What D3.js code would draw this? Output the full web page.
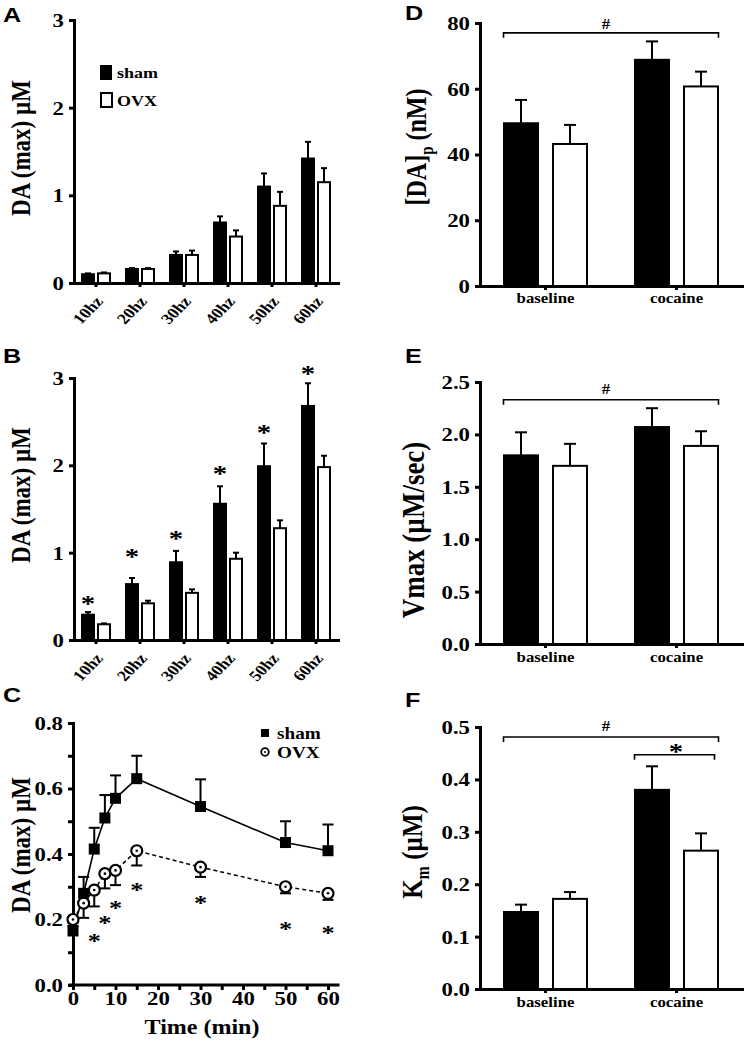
<!DOCTYPE html>
<html><head><meta charset="utf-8">
<script src="https://cdn.jsdelivr.net/npm/d3@7"></script>
<style>body{margin:0;background:#fff}</style>
</head><body><svg id="c" width="747" height="1050"></svg>
<script>
// ---------- DATA ----------
const hzCategories = ["10hz","20hz","30hz","40hz","50hz","60hz"];
const aSham    = [0.10,0.16,0.32,0.69,1.10,1.42];
const aShamErr = [0.01,0.01,0.04,0.07,0.15,0.19];
const aOvx     = [0.11,0.16,0.32,0.53,0.88,1.15];
const aOvxErr  = [0.01,0.01,0.05,0.07,0.16,0.16];

const bSham    = [0.29,0.64,0.89,1.56,1.99,2.68];
const bShamErr = [0.03,0.07,0.13,0.20,0.26,0.26];
const bOvx     = [0.18,0.42,0.54,0.93,1.28,1.98];
const bOvxErr  = [0.01,0.03,0.04,0.07,0.09,0.13];
const bStarVals = [0.46,1.00,1.20,1.95,2.42,3.10];

const timeMin  = [0,2.5,5,7.5,10,15,30,50,60];
const cSham    = [0.165,0.28,0.415,0.51,0.57,0.63,0.545,0.435,0.41];
const cShamErr = [0.015,0.05,0.065,0.07,0.07,0.07,0.083,0.065,0.08];
const cOvx     = [0.20,0.25,0.29,0.34,0.35,0.41,0.36,0.30,0.28];
const cOvxErr  = [0.01,0.045,0.05,0.045,0.045,0.045,0.03,0.02,0.02];
const cStarTimes = [5,7.5,10,15,30,50,60];
const cStarVals  = [0.145,0.20,0.245,0.30,0.26,0.18,0.17];

const groups   = ["baseline","cocaine"];
const dSham    = [49.5,68.8];
const dShamErr = [7.1,5.6];
const dOvx     = [43.2,60.7];
const dOvxErr  = [5.8,4.5];

const eSham    = [1.80,2.07];
const eShamErr = [0.22,0.18];
const eOvx     = [1.70,1.89];
const eOvxErr  = [0.21,0.14];

const fSham    = [0.147,0.38];
const fShamErr = [0.014,0.045];
const fOvx     = [0.172,0.264];
const fOvxErr  = [0.013,0.033];

// ---------- STYLE ----------
const SX = 1.2;
const SERIF = "'Liberation Serif','Times New Roman',serif";
const SANS = "'Liberation Sans',Arial,sans-serif";
const svg = d3.select("#c");

function txt(g, x, y, s, o = {}) {
  const t = g.append("text")
    .attr("transform", `translate(${x},${y}) scale(${SX},1) rotate(${o.rot || 0})`)
    .attr("text-anchor", o.anchor || "middle")
    .attr("font-family", o.family || SERIF)
    .attr("font-weight", "bold")
    .attr("font-size", o.size || 19)
    .attr("fill", "#000");
  if (o.dy) t.attr("dy", o.dy);
  if (typeof s === "string") t.text(s); else s(t);
  return t;
}

function styleAxis(ax, fs) {
  ax.attr("font-family", SERIF).attr("font-size", fs).attr("font-weight", "bold");
  ax.select(".domain").attr("stroke-width", 3).attr("stroke-linecap", "square").attr("stroke", "#000");
  ax.selectAll(".tick line").attr("stroke-width", 3).attr("stroke", "#000");
  ax.selectAll(".tick text").attr("fill", "#000");
}

function yAxis(g, y, x0, vals, fmt, fs) {
  const ax = g.append("g").attr("transform", `translate(${x0},0)`)
    .call(d3.axisLeft(y).tickValues(vals).tickFormat(fmt).tickSize(5).tickSizeOuter(0));
  styleAxis(ax, fs);
  ax.selectAll(".tick text").attr("x", null).attr("dy", null)
    .attr("transform", `translate(-10,${fs * 0.34}) scale(${SX},1)`);
  return ax;
}

function bracket(g, x1, x2, yb, h) {
  g.append("path").attr("d", `M${x1},${yb + h}V${yb}H${x2}V${yb + h}`)
    .attr("fill", "none").attr("stroke", "#000").attr("stroke-width", 1.6);
}

function star(g, x, yc, size) {
  txt(g, x, yc + size * 0.47, "*", { size: size });
}

function barPanel(o) {
  const g = svg.append("g");
  const x = d3.scaleBand().domain(o.cats).range(o.xr);
  const y = d3.scaleLinear().domain(o.yd).range(o.yr);
  const cx = c => x(c) + x.bandwidth() / 2;
  const series = [
    { vals: o.sham, errs: o.shamErr, fill: "#000", dx: -o.off - o.bw },
    { vals: o.ovx, errs: o.ovxErr, fill: "#fff", dx: o.off }
  ];
  series.forEach(s => {
    o.cats.forEach((c, i) => {
      const bx = cx(c) + s.dx, mid = bx + o.bw / 2;
      const top = y(s.vals[i]), et = y(s.vals[i] + s.errs[i]);
      g.append("line").attr("x1", mid).attr("x2", mid).attr("y1", top).attr("y2", et)
        .attr("stroke", "#000").attr("stroke-width", o.ew);
      g.append("line").attr("x1", mid - o.cap / 2).attr("x2", mid + o.cap / 2).attr("y1", et).attr("y2", et)
        .attr("stroke", "#000").attr("stroke-width", o.ew);
      g.append("rect").attr("x", bx).attr("y", top).attr("width", o.bw).attr("height", y(0) - top)
        .attr("fill", s.fill).attr("stroke", "#000").attr("stroke-width", 2);
    });
  });
  yAxis(g, y, o.xr[0], o.yt, o.fmt, o.tfs);
  const xa = g.append("g").attr("transform", `translate(0,${o.yr[0]})`)
    .call(d3.axisBottom(x).tickSize(4).tickSizeOuter(0));
  styleAxis(xa, o.xfs);
  xa.selectAll(".tick text").attr("y", null).attr("dy", null);
  if (o.rotLabels) {
    xa.selectAll(".tick text").attr("text-anchor", "end")
      .attr("transform", `translate(8,19) scale(${SX},1) rotate(-50)`);
  } else {
    xa.selectAll(".tick text").attr("transform", `translate(0,${o.xly}) scale(${SX},1)`);
  }
  return { g, x, y, cx };
}

// ---------- PANEL A ----------
const A = barPanel({ cats: hzCategories, sham: aSham, shamErr: aShamErr, ovx: aOvx, ovxErr: aOvxErr,
  xr: [74, 338], yr: [283, 20], yd: [0, 3], yt: [0, 1, 2, 3], fmt: d3.format("d"),
  bw: 12, off: 2, cap: 6, ew: 2, tfs: 19, xfs: 15, rotLabels: true });
txt(A.g, 20, 148, "DA (max) µM", { size: 23, rot: -90, dy: "0.35em" });
txt(A.g, 3, 22, "A", { size: 21, family: SANS, anchor: "start" });
A.g.append("rect").attr("x", 100).attr("y", 65).attr("width", 12).attr("height", 15).attr("fill", "#000");
A.g.append("rect").attr("x", 101).attr("y", 93).attr("width", 11).attr("height", 14).attr("fill", "#fff").attr("stroke", "#000").attr("stroke-width", 2);
txt(A.g, 117, 78, "sham", { size: 15, anchor: "start" });
txt(A.g, 117, 106, "OVX", { size: 15, anchor: "start" });

// ---------- PANEL B ----------
const B = barPanel({ cats: hzCategories, sham: bSham, shamErr: bShamErr, ovx: bOvx, ovxErr: bOvxErr,
  xr: [74, 338], yr: [640, 378], yd: [0, 3], yt: [0, 1, 2, 3], fmt: d3.format("d"),
  bw: 12, off: 2, cap: 6, ew: 2, tfs: 19, xfs: 15, rotLabels: true });
txt(B.g, 20, 495, "DA (max) µM", { size: 23, rot: -90, dy: "0.35em" });
txt(B.g, 3, 363, "B", { size: 21, family: SANS, anchor: "start" });
hzCategories.forEach((c, i) => star(B.g, B.cx(c) - 8, B.y(bStarVals[i]), 24));

// ---------- PANEL C ----------
(function () {
  const g = svg.append("g");
  const x = d3.scaleLinear().domain([0, 60]).range([73, 328]);
  const y = d3.scaleLinear().domain([0, 0.8]).range([985, 723]);
  const xa = g.append("g").attr("transform", `translate(0,${y(0)})`)
    .call(d3.axisBottom(x).tickValues(d3.range(0, 61, 5)).tickFormat(d => d % 10 === 0 ? d : "").tickSize(5).tickSizeOuter(0));
  styleAxis(xa, 19);
  xa.select(".domain").attr("d", `M70,0H338`);
  xa.selectAll(".tick text").attr("y", null).attr("dy", null)
    .attr("transform", `translate(0,20) scale(${SX},1)`);
  const yVals = d3.range(0, 9).map(i => i / 10);
  yAxis(g, y, 73, yVals, d => (Math.round(d * 10) % 2 === 0 ? d3.format(".1f")(d) : ""), 19);

  const idx = d3.range(timeMin.length);
  g.append("path").datum(idx).attr("fill", "none").attr("stroke", "#000").attr("stroke-width", 1.5)
    .attr("stroke-dasharray", "4,3")
    .attr("d", d3.line().x(i => x(timeMin[i])).y(i => y(cOvx[i])));
  g.append("path").datum(idx).attr("fill", "none").attr("stroke", "#000").attr("stroke-width", 1.6)
    .attr("d", d3.line().x(i => x(timeMin[i])).y(i => y(cSham[i])));
  idx.forEach(i => {
    const px = x(timeMin[i]);
    const st = y(cSham[i] + cShamErr[i]);
    g.append("line").attr("x1", px).attr("x2", px).attr("y1", y(cSham[i])).attr("y2", st).attr("stroke", "#000").attr("stroke-width", 2);
    g.append("line").attr("x1", px - 5.5).attr("x2", px + 5.5).attr("y1", st).attr("y2", st).attr("stroke", "#000").attr("stroke-width", 2);
    const ob = y(cOvx[i] - cOvxErr[i]);
    g.append("line").attr("x1", px).attr("x2", px).attr("y1", y(cOvx[i])).attr("y2", ob).attr("stroke", "#000").attr("stroke-width", 2);
    g.append("line").attr("x1", px - 5.5).attr("x2", px + 5.5).attr("y1", ob).attr("y2", ob).attr("stroke", "#000").attr("stroke-width", 2);
  });
  idx.forEach(i => {
    const px = x(timeMin[i]), py = y(cOvx[i]);
    g.append("circle").attr("cx", px).attr("cy", py).attr("r", 5.5).attr("fill", "#fff").attr("stroke", "#000").attr("stroke-width", 2.2);
    g.append("circle").attr("cx", px).attr("cy", py).attr("r", 1.3).attr("fill", "#000");
  });
  idx.forEach(i => {
    g.append("rect").attr("x", x(timeMin[i]) - 5.5).attr("y", y(cSham[i]) - 5.5).attr("width", 11).attr("height", 11).attr("fill", "#000");
  });
  cStarTimes.forEach((t, i) => star(g, x(t), y(cStarVals[i]), 22));
  g.append("rect").attr("x", 261).attr("y", 729).attr("width", 8).attr("height", 8).attr("fill", "#000");
  g.append("circle").attr("cx", 265).attr("cy", 752).attr("r", 3.8).attr("fill", "#fff").attr("stroke", "#000").attr("stroke-width", 1.8);
  g.append("circle").attr("cx", 265).attr("cy", 752).attr("r", 1).attr("fill", "#000");
  txt(g, 277, 739, "sham", { size: 16, anchor: "start" });
  txt(g, 277, 758, "OVX", { size: 16, anchor: "start" });
  txt(g, 202, 1034, "Time (min)", { size: 20 });
  txt(g, 20, 845, "DA (max) µM", { size: 23, rot: -90, dy: "0.35em" });
  txt(g, 3, 702, "C", { size: 21, family: SANS, anchor: "start" });
})();

// ---------- PANEL D ----------
const D = barPanel({ cats: groups, sham: dSham, shamErr: dShamErr, ovx: dOvx, ovxErr: dOvxErr,
  xr: [480, 742], yr: [286, 23], yd: [0, 80], yt: [0, 20, 40, 60, 80], fmt: d3.format("d"),
  bw: 34, off: 7.5, cap: 12, ew: 2, tfs: 19, xfs: 14, rotLabels: false, xly: 17 });
txt(D.g, 405, 20, "D", { size: 21, family: SANS, anchor: "start" });
txt(D.g, 416, 147, t => {
  t.append("tspan").text("[DA]");
  t.append("tspan").attr("font-size", 15).attr("dy", 6).text("p");
  t.append("tspan").attr("dy", -6).text(" (nM)");
}, { size: 24, rot: -90, dy: "0.35em" });
bracket(D.g, D.cx("baseline") - 42, D.cx("cocaine") + 42, D.y(77), 5);
txt(D.g, 606, D.y(77) - 4, "#", { size: 14 });

// ---------- PANEL E ----------
const E = barPanel({ cats: groups, sham: eSham, shamErr: eShamErr, ovx: eOvx, ovxErr: eOvxErr,
  xr: [480, 742], yr: [644, 382], yd: [0, 2.5], yt: [0, 0.5, 1, 1.5, 2, 2.5], fmt: d3.format(".1f"),
  bw: 34, off: 7.5, cap: 12, ew: 2, tfs: 19, xfs: 14, rotLabels: false, xly: 18 });
txt(E.g, 405, 363, "E", { size: 21, family: SANS, anchor: "start" });
txt(E.g, 413, 530, "Vmax (µM/sec)", { size: 27, rot: -90, dy: "0.35em" });
bracket(E.g, E.cx("baseline") - 42, E.cx("cocaine") + 42, E.y(2.33), 5);
txt(E.g, 606, E.y(2.33) - 6, "#", { size: 14 });

// ---------- PANEL F ----------
const F = barPanel({ cats: groups, sham: fSham, shamErr: fShamErr, ovx: fOvx, ovxErr: fOvxErr,
  xr: [480, 742], yr: [989, 727], yd: [0, 0.5], yt: [0, 0.1, 0.2, 0.3, 0.4, 0.5], fmt: d3.format(".1f"),
  bw: 34, off: 7.5, cap: 12, ew: 2, tfs: 19, xfs: 14, rotLabels: false, xly: 18 });
txt(F.g, 405, 707, "F", { size: 21, family: SANS, anchor: "start" });
txt(F.g, 411, 852, t => {
  t.append("tspan").text("K");
  t.append("tspan").attr("font-size", 16).attr("dy", 6).text("m");
  t.append("tspan").attr("dy", -6).text(" (µM)");
}, { size: 25, rot: -90, dy: "0.35em" });
bracket(F.g, F.cx("baseline") - 42, F.cx("cocaine") + 42, F.y(0.481), 5);
txt(F.g, 606, F.y(0.481) - 6, "#", { size: 14 });
bracket(F.g, F.cx("cocaine") - 42, F.cx("cocaine") + 38, F.y(0.447), 5);
star(F.g, 676, F.y(0.46), 24);
</script>
</body></html>
